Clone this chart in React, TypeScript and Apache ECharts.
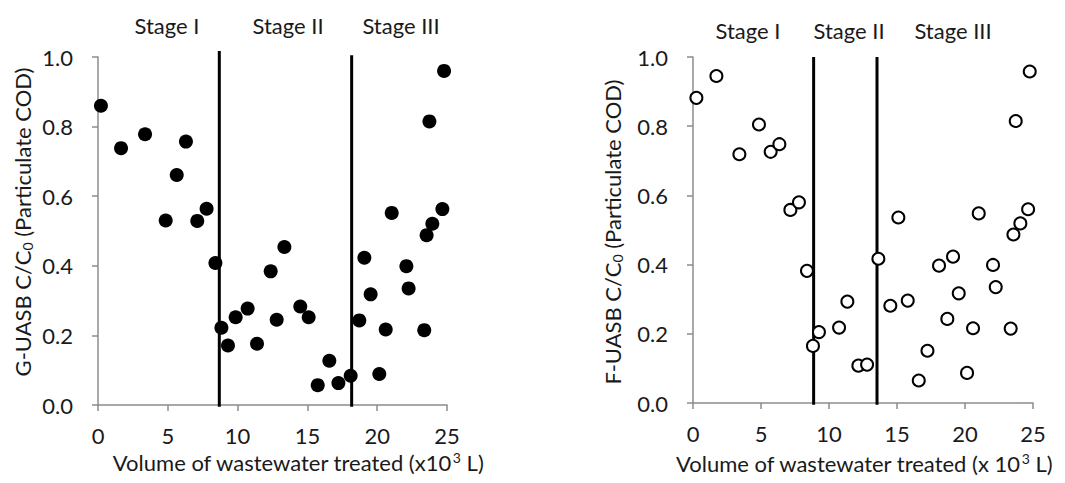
import React, { useEffect, useRef } from "react";
import * as echarts from "echarts";

// G-UASB (filled markers)
const gVolume = [0.21, 1.65, 3.37, 4.85, 5.64, 6.3, 7.11, 7.78, 8.41, 8.84, 9.31, 9.86, 10.72, 11.39, 12.37, 12.8, 13.35, 14.49, 15.09, 15.74, 16.57, 17.22, 18.1, 18.72, 19.08, 19.53, 20.15, 20.61, 21.04, 22.09, 22.25, 23.37, 23.54, 23.74, 23.95, 24.67, 24.79];
const gRatio = [0.86, 0.738, 0.778, 0.53, 0.661, 0.757, 0.529, 0.564, 0.408, 0.222, 0.171, 0.252, 0.277, 0.176, 0.384, 0.245, 0.454, 0.283, 0.252, 0.057, 0.127, 0.063, 0.084, 0.243, 0.423, 0.318, 0.089, 0.217, 0.552, 0.399, 0.335, 0.215, 0.488, 0.815, 0.521, 0.563, 0.96];

// F-UASB (open markers)
const fVolume = [0.25, 1.72, 3.41, 4.85, 5.71, 6.35, 7.16, 7.79, 8.38, 8.82, 9.26, 10.74, 11.35, 12.16, 12.8, 13.63, 14.51, 15.1, 15.79, 16.6, 17.24, 18.09, 18.7, 19.12, 19.54, 20.15, 20.59, 21.01, 22.06, 22.26, 23.36, 23.56, 23.73, 24.07, 24.64, 24.76];
const fRatio = [0.882, 0.945, 0.719, 0.805, 0.726, 0.748, 0.558, 0.58, 0.382, 0.165, 0.205, 0.218, 0.293, 0.108, 0.111, 0.417, 0.281, 0.536, 0.296, 0.065, 0.151, 0.397, 0.243, 0.423, 0.317, 0.087, 0.216, 0.548, 0.399, 0.335, 0.215, 0.487, 0.815, 0.519, 0.56, 0.958];

// Stage boundaries (x10^3 L)
const gStageBounds = [8.69, 18.17];
const fStageBounds = [8.87, 13.53];
const stageNames = ["Stage I", "Stage II", "Stage III"];

const xTicks = { min: 0, max: 25, interval: 5 };
const yTicks = { min: 0, max: 1, interval: 0.2 };

const FONT = "Lato";
const FS = 22;
const TEXT = "#1a1a1a";
const AXIS = "#8c8c8c";

function pairs(xs: number[], ys: number[]) {
  return xs.map((x, i) => [x, ys[i]]);
}

export default function App() {
  const ref = useRef<HTMLDivElement>(null);

  useEffect(() => {
    if (!ref.current) return;
    const chart = echarts.init(ref.current, null, { renderer: "svg" });

    const xAxisBase = (gridIndex: number) => ({
      type: "value" as const,
      gridIndex,
      min: xTicks.min,
      max: xTicks.max,
      interval: xTicks.interval,
      axisLine: { show: true, onZero: false, lineStyle: { color: AXIS, width: 1.5 } },
      axisTick: { show: true, length: 6, lineStyle: { color: AXIS, width: 1.5 } },
      axisLabel: { color: TEXT, fontFamily: FONT, fontSize: FS, margin: 19, lineHeight: 22 },
      splitLine: { show: false },
    });
    const yAxisBase = (gridIndex: number) => ({
      type: "value" as const,
      gridIndex,
      min: yTicks.min,
      max: yTicks.max,
      interval: yTicks.interval,
      axisLine: { show: true, onZero: false, lineStyle: { color: AXIS, width: 1.5 } },
      axisTick: { show: true, length: 6, lineStyle: { color: AXIS, width: 1.5 } },
      axisLabel: {
        color: TEXT,
        fontFamily: FONT,
        fontSize: FS,
        margin: 25,
        formatter: (v: number) => v.toFixed(1),
      },
      splitLine: { show: false },
    });

    const stageLine = (b: number, top: number, xi: number) => ({
      type: "line" as const,
      xAxisIndex: xi,
      yAxisIndex: xi,
      data: [[b, -0.005], [b, top]],
      symbol: "none",
      clip: false,
      silent: true,
      lineStyle: { color: "#000", width: 3 },
      z: 1,
    });

    const titleRich = (prefix: string) => ({
      text: `{a|${prefix} C/C}{s|0}{a| (Particulate COD)}`,
      rich: {
        a: { fontFamily: FONT, fontSize: FS, fill: TEXT, lineHeight: 24 },
        s: { fontFamily: FONT, fontSize: 14, fill: TEXT, lineHeight: 14, verticalAlign: "bottom" },
      },
      align: "center",
      verticalAlign: "middle",
    });

    const xTitle = (sep: string) => ({
      text: `{a|Volume of wastewater treated (x${sep}10}{p|3}{a| L)}`,
      rich: {
        a: { fontFamily: FONT, fontSize: FS, fill: TEXT, lineHeight: 24 },
        p: { fontFamily: FONT, fontSize: 14, fill: TEXT, lineHeight: 14, verticalAlign: "top", padding: [0, 0, 0, 1] },
      },
      align: "center",
      verticalAlign: "middle",
    });

    const stageLabel = (x: number, y: number, text: string) => ({
      type: "text" as const,
      x,
      y,
      style: { text, fontFamily: FONT, fontSize: FS, fill: TEXT, align: "center", verticalAlign: "middle" },
    });

    chart.setOption({
      animation: false,
      grid: [
        { left: 98, top: 57, width: 349, height: 348 },
        { left: 693, top: 57, width: 340, height: 346 },
      ],
      xAxis: [xAxisBase(0), xAxisBase(1)],
      yAxis: [yAxisBase(0), yAxisBase(1)],
      series: [
        stageLine(gStageBounds[0], 1.017, 0),
        stageLine(gStageBounds[1], 1.005, 0),
        stageLine(fStageBounds[0], 1.0, 1),
        stageLine(fStageBounds[1], 1.0, 1),
        {
          type: "scatter",
          xAxisIndex: 0,
          yAxisIndex: 0,
          data: pairs(gVolume, gRatio),
          symbol: "circle",
          symbolSize: 14,
          itemStyle: { color: "#000", opacity: 1 },
          z: 3,
        },
        {
          type: "scatter",
          xAxisIndex: 1,
          yAxisIndex: 1,
          data: pairs(fVolume, fRatio),
          symbol: "circle",
          symbolSize: 12,
          itemStyle: { color: "#fff", borderColor: "#000", borderWidth: 2, opacity: 1 },
          z: 3,
        },
      ],
      graphic: [
        stageLabel(167, 25, stageNames[0]),
        stageLabel(288, 25, stageNames[1]),
        stageLabel(401, 25, stageNames[2]),
        stageLabel(748, 30, stageNames[0]),
        stageLabel(849, 30, stageNames[1]),
        stageLabel(953, 30, stageNames[2]),
        { type: "text", x: 22, y: 222, rotation: Math.PI / 2, style: titleRich("G-UASB") },
        { type: "text", x: 612, y: 232, rotation: Math.PI / 2, style: titleRich("F-UASB") },
        { type: "text", x: 298, y: 462, style: xTitle("") },
        { type: "text", x: 864, y: 463, style: xTitle(" ") },
      ],
    });

    return () => chart.dispose();
  }, []);

  return (
    <div
      ref={ref}
      style={{ position: "fixed", left: 0, top: 0, width: 1065, height: 483, background: "#fff" }}
    />
  );
}
